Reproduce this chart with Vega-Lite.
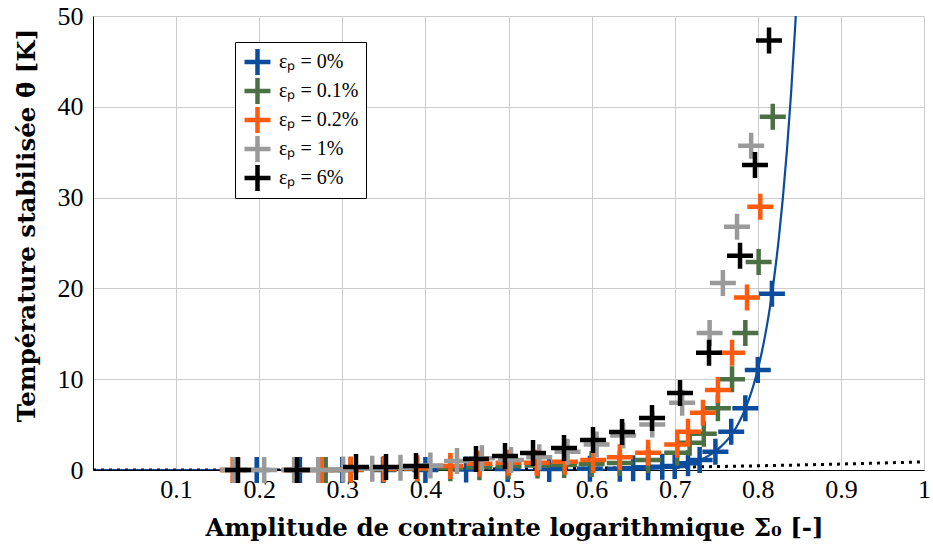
{
  "$schema": "https://vega.github.io/schema/vega-lite/v6.json",
  "width": 831,
  "height": 454,
  "autosize": {"type": "none"},
  "padding": {"left": 93, "top": 16, "right": 9, "bottom": 74},
  "background": "white",
  "config": {"view": {"stroke": null}, "font": "Liberation Serif"},
  "datasets": {
    "curve": [
      {"x": 0, "y": 0}, {"x": 0.3, "y": 0}, {"x": 0.5, "y": 0.001}, {"x": 0.6, "y": 0.015},
      {"x": 0.65, "y": 0.078}, {"x": 0.68, "y": 0.21}, {"x": 0.7, "y": 0.41}, {"x": 0.72, "y": 0.79},
      {"x": 0.74, "y": 1.53}, {"x": 0.75, "y": 2.13}, {"x": 0.76, "y": 2.96}, {"x": 0.765, "y": 3.49},
      {"x": 0.77, "y": 4.11}, {"x": 0.775, "y": 4.85}, {"x": 0.78, "y": 5.72}, {"x": 0.785, "y": 6.75},
      {"x": 0.79, "y": 7.96}, {"x": 0.795, "y": 9.39}, {"x": 0.8, "y": 11.07}, {"x": 0.805, "y": 13.06},
      {"x": 0.81, "y": 15.4}, {"x": 0.815, "y": 18.16}, {"x": 0.82, "y": 21.42}, {"x": 0.825, "y": 25.26},
      {"x": 0.83, "y": 29.8}, {"x": 0.835, "y": 35.14}, {"x": 0.84, "y": 41.44}, {"x": 0.845, "y": 48.87},
      {"x": 0.85, "y": 57.65}
    ],
    "dots": [
      {"x": 0, "y": 0}, {"x": 0.1, "y": 0.001}, {"x": 0.2, "y": 0.007}, {"x": 0.3, "y": 0.024},
      {"x": 0.4, "y": 0.058}, {"x": 0.5, "y": 0.113}, {"x": 0.6, "y": 0.194}, {"x": 0.7, "y": 0.309},
      {"x": 0.8, "y": 0.461}, {"x": 0.9, "y": 0.656}, {"x": 1.0, "y": 0.9}
    ],
    "pts": [
      {"s": "εₚ = 0%", "x": 0.197, "y": 0}, {"s": "εₚ = 0%", "x": 0.249, "y": 0}, {"s": "εₚ = 0%", "x": 0.3, "y": 0},
      {"s": "εₚ = 0%", "x": 0.349, "y": 0}, {"s": "εₚ = 0%", "x": 0.4, "y": 0}, {"s": "εₚ = 0%", "x": 0.449, "y": 0.05},
      {"s": "εₚ = 0%", "x": 0.499, "y": 0.1}, {"s": "εₚ = 0%", "x": 0.549, "y": 0.1}, {"s": "εₚ = 0%", "x": 0.598, "y": 0.15},
      {"s": "εₚ = 0%", "x": 0.634, "y": 0.15}, {"s": "εₚ = 0%", "x": 0.65, "y": 0.2}, {"s": "εₚ = 0%", "x": 0.668, "y": 0.3},
      {"s": "εₚ = 0%", "x": 0.685, "y": 0.35}, {"s": "εₚ = 0%", "x": 0.7, "y": 0.45}, {"s": "εₚ = 0%", "x": 0.716, "y": 0.75},
      {"s": "εₚ = 0%", "x": 0.73, "y": 1.1}, {"s": "εₚ = 0%", "x": 0.749, "y": 2.0}, {"s": "εₚ = 0%", "x": 0.768, "y": 4.2},
      {"s": "εₚ = 0%", "x": 0.785, "y": 6.8}, {"s": "εₚ = 0%", "x": 0.8, "y": 11.0}, {"s": "εₚ = 0%", "x": 0.817, "y": 19.4},

      {"s": "εₚ = 0.1%", "x": 0.17, "y": 0}, {"s": "εₚ = 0.1%", "x": 0.245, "y": 0}, {"s": "εₚ = 0.1%", "x": 0.28, "y": 0},
      {"s": "εₚ = 0.1%", "x": 0.31, "y": 0}, {"s": "εₚ = 0.1%", "x": 0.35, "y": 0.05}, {"s": "εₚ = 0.1%", "x": 0.39, "y": 0.1},
      {"s": "εₚ = 0.1%", "x": 0.43, "y": 0.2}, {"s": "εₚ = 0.1%", "x": 0.465, "y": 0.3}, {"s": "εₚ = 0.1%", "x": 0.5, "y": 0.4},
      {"s": "εₚ = 0.1%", "x": 0.535, "y": 0.5}, {"s": "εₚ = 0.1%", "x": 0.567, "y": 0.55}, {"s": "εₚ = 0.1%", "x": 0.6, "y": 0.65},
      {"s": "εₚ = 0.1%", "x": 0.634, "y": 0.77}, {"s": "εₚ = 0.1%", "x": 0.668, "y": 1.1}, {"s": "εₚ = 0.1%", "x": 0.703, "y": 1.9},
      {"s": "εₚ = 0.1%", "x": 0.718, "y": 3.0}, {"s": "εₚ = 0.1%", "x": 0.735, "y": 4.0}, {"s": "εₚ = 0.1%", "x": 0.752, "y": 6.8},
      {"s": "εₚ = 0.1%", "x": 0.769, "y": 10.0}, {"s": "εₚ = 0.1%", "x": 0.785, "y": 15.1}, {"s": "εₚ = 0.1%", "x": 0.801, "y": 22.9},
      {"s": "εₚ = 0.1%", "x": 0.818, "y": 38.9},

      {"s": "εₚ = 0.2%", "x": 0.168, "y": 0}, {"s": "εₚ = 0.2%", "x": 0.243, "y": 0}, {"s": "εₚ = 0.2%", "x": 0.275, "y": 0},
      {"s": "εₚ = 0.2%", "x": 0.31, "y": 0.05}, {"s": "εₚ = 0.2%", "x": 0.35, "y": 0.1}, {"s": "εₚ = 0.2%", "x": 0.39, "y": 0.2},
      {"s": "εₚ = 0.2%", "x": 0.43, "y": 0.45}, {"s": "εₚ = 0.2%", "x": 0.465, "y": 0.7}, {"s": "εₚ = 0.2%", "x": 0.5, "y": 0.8},
      {"s": "εₚ = 0.2%", "x": 0.534, "y": 0.8}, {"s": "εₚ = 0.2%", "x": 0.568, "y": 0.9}, {"s": "εₚ = 0.2%", "x": 0.602, "y": 1.1},
      {"s": "εₚ = 0.2%", "x": 0.634, "y": 1.4}, {"s": "εₚ = 0.2%", "x": 0.668, "y": 1.9}, {"s": "εₚ = 0.2%", "x": 0.703, "y": 2.8},
      {"s": "εₚ = 0.2%", "x": 0.716, "y": 4.2}, {"s": "εₚ = 0.2%", "x": 0.734, "y": 6.3}, {"s": "εₚ = 0.2%", "x": 0.752, "y": 8.8},
      {"s": "εₚ = 0.2%", "x": 0.769, "y": 12.9}, {"s": "εₚ = 0.2%", "x": 0.787, "y": 19.0}, {"s": "εₚ = 0.2%", "x": 0.803, "y": 29.0},

      {"s": "εₚ = 1%", "x": 0.169, "y": 0}, {"s": "εₚ = 1%", "x": 0.206, "y": 0}, {"s": "εₚ = 1%", "x": 0.242, "y": 0},
      {"s": "εₚ = 1%", "x": 0.271, "y": 0}, {"s": "εₚ = 1%", "x": 0.301, "y": 0.05}, {"s": "εₚ = 1%", "x": 0.336, "y": 0.15},
      {"s": "εₚ = 1%", "x": 0.37, "y": 0.25}, {"s": "εₚ = 1%", "x": 0.406, "y": 0.5}, {"s": "εₚ = 1%", "x": 0.438, "y": 1.0},
      {"s": "εₚ = 1%", "x": 0.468, "y": 1.3}, {"s": "εₚ = 1%", "x": 0.503, "y": 1.1}, {"s": "εₚ = 1%", "x": 0.537, "y": 1.4},
      {"s": "εₚ = 1%", "x": 0.571, "y": 2.0}, {"s": "εₚ = 1%", "x": 0.606, "y": 2.8}, {"s": "εₚ = 1%", "x": 0.638, "y": 3.8},
      {"s": "εₚ = 1%", "x": 0.673, "y": 5.0}, {"s": "εₚ = 1%", "x": 0.709, "y": 7.4}, {"s": "εₚ = 1%", "x": 0.742, "y": 15.1},
      {"s": "εₚ = 1%", "x": 0.758, "y": 20.6}, {"s": "εₚ = 1%", "x": 0.775, "y": 26.8}, {"s": "εₚ = 1%", "x": 0.792, "y": 35.7},

      {"s": "εₚ = 6%", "x": 0.1745, "y": 0}, {"s": "εₚ = 6%", "x": 0.2455, "y": 0}, {"s": "εₚ = 6%", "x": 0.3165, "y": 0.33},
      {"s": "εₚ = 6%", "x": 0.3526, "y": 0.33}, {"s": "εₚ = 6%", "x": 0.3887, "y": 0.44}, {"s": "εₚ = 6%", "x": 0.4609, "y": 1.21},
      {"s": "εₚ = 6%", "x": 0.4958, "y": 1.54}, {"s": "εₚ = 6%", "x": 0.5295, "y": 1.87}, {"s": "εₚ = 6%", "x": 0.5668, "y": 2.43},
      {"s": "εₚ = 6%", "x": 0.6017, "y": 3.31}, {"s": "εₚ = 6%", "x": 0.6366, "y": 4.19}, {"s": "εₚ = 6%", "x": 0.6727, "y": 5.73},
      {"s": "εₚ = 6%", "x": 0.7064, "y": 8.49}, {"s": "εₚ = 6%", "x": 0.7413, "y": 12.9}, {"s": "εₚ = 6%", "x": 0.7786, "y": 23.6},
      {"s": "εₚ = 6%", "x": 0.7966, "y": 33.6}, {"s": "εₚ = 6%", "x": 0.8135, "y": 47.3}
    ]
  },
  "encoding": {
    "x": {
      "field": "x", "type": "quantitative",
      "scale": {"domain": [0, 1], "nice": false, "zero": false},
      "axis": {
        "title": "Amplitude de contrainte logarithmique Σ₀ [-]",
        "values": [0, 0.1, 0.2, 0.3, 0.4, 0.5, 0.6, 0.7, 0.8, 0.9, 1],
        "labelExpr": "datum.value == 0 ? '' : format(datum.value, '.1~f')",
        "grid": true, "gridColor": "#cccccc", "gridWidth": 1,
        "ticks": false, "tickSize": 0,
        "domainColor": "#000000", "domainWidth": 1,
        "labelFont": "Liberation Serif", "labelFontSize": 26, "labelColor": "#000000",
        "labelPadding": 6, "labelFlush": false, "labelOverlap": false,
        "titleFont": "DejaVu Serif", "titleFontWeight": "bold", "titleFontSize": 24.5, "titleColor": "#000000",
        "titleX": 421, "titleY": 65, "titleBaseline": "alphabetic", "titleAlign": "center"
      }
    },
    "y": {
      "field": "y", "type": "quantitative",
      "scale": {"domain": [0, 50], "nice": false, "zero": false},
      "axis": {
        "title": "Température stabilisée θ̄ [K]",
        "values": [0, 10, 20, 30, 40, 50],
        "grid": true, "gridColor": "#cccccc", "gridWidth": 1,
        "ticks": false, "tickSize": 0,
        "domainColor": "#000000", "domainWidth": 1,
        "labelFont": "Liberation Serif", "labelFontSize": 26, "labelColor": "#000000",
        "labelPadding": 10, "labelFlush": false, "labelOverlap": false,
        "titleFont": "DejaVu Serif", "titleFontWeight": "bold", "titleFontSize": 24.5, "titleColor": "#000000",
        "titleX": -59, "titleY": 209, "titleAngle": -90, "titleBaseline": "alphabetic", "titleAlign": "center"
      }
    }
  },
  "layer": [
    {
      "data": {"name": "curve"},
      "mark": {"type": "line", "color": "#0b4c9c", "strokeWidth": 2.2, "interpolate": "monotone", "clip": true},
      "encoding": {}
    },
    {
      "data": {"name": "dots"},
      "mark": {"type": "line", "color": "#000000", "strokeWidth": 3, "strokeDash": [3, 5], "interpolate": "monotone", "clip": true},
      "encoding": {}
    },
    {
      "data": {"name": "pts"},
      "mark": {"type": "point", "shape": "M-1,0H1M0,-1V1", "filled": false, "size": 676, "strokeWidth": 4.5, "opacity": 1, "strokeCap": "butt"},
      "encoding": {
        "color": {
          "field": "s", "type": "nominal",
          "scale": {
            "domain": ["εₚ = 0%", "εₚ = 0.1%", "εₚ = 0.2%", "εₚ = 1%", "εₚ = 6%"],
            "range": ["#0b4c9c", "#4b7043", "#ff5a0d", "#9a9a9a", "#000000"]
          },
          "legend": {
            "title": null, "orient": "none", "legendX": 142, "legendY": 26,
            "symbolType": "M-1,0H1M0,-1V1", "symbolSize": 676, "symbolStrokeWidth": 4.5,
            "labelFont": "Liberation Serif", "labelFontSize": 20, "labelColor": "#000000",
            "labelOffset": 6, "rowPadding": 3, "clipHeight": 26, "padding": 7, "labelLimit": 300,
            "strokeColor": "#000000", "fillColor": "#ffffff", "cornerRadius": 0
          }
        }
      }
    }
  ]
}
